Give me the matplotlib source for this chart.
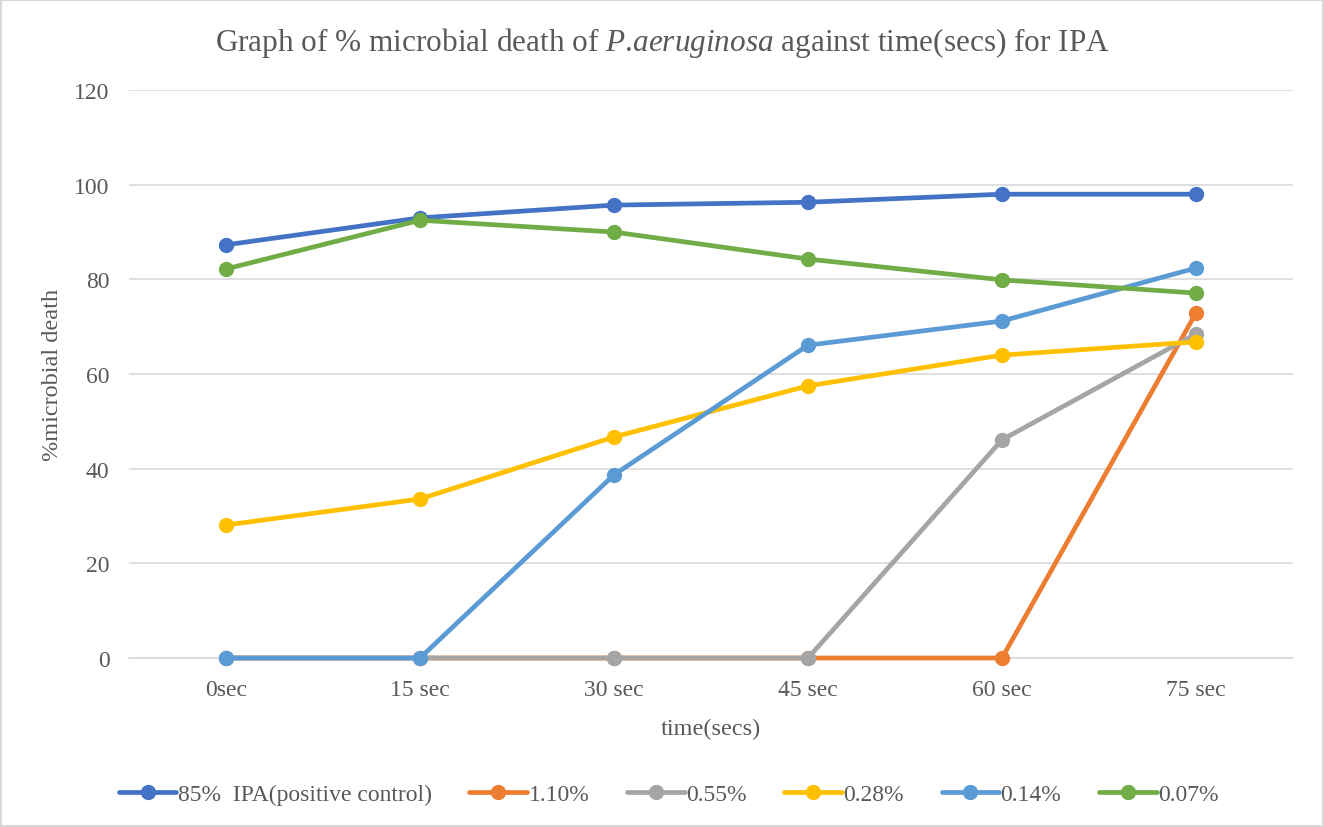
import matplotlib
matplotlib.use("Agg")
import matplotlib.pyplot as plt
from matplotlib.patches import Rectangle

plt.rcParams['font.family'] = ['Liberation Serif', 'DejaVu Serif']
plt.rcParams['mathtext.fontset'] = 'custom'
plt.rcParams['mathtext.rm'] = 'Liberation Serif'
plt.rcParams['mathtext.it'] = 'Liberation Serif:italic'

# data
times = ["0sec", "15 sec", "30 sec", "45 sec", "60 sec", "75 sec"]
ipa_85 = [87.3, 93.0, 95.7, 96.3, 98.0, 98.0]
ipa_110 = [0, 0, 0, 0, 0, 72.9]
ipa_055 = [0, 0, 0, 0, 46.1, 68.5]
ipa_028 = [28.1, 33.6, 46.7, 57.5, 64.0, 66.8]
ipa_014 = [0, 0, 38.7, 66.1, 71.2, 82.4]
ipa_007 = [82.2, 92.5, 90.0, 84.3, 79.9, 77.1]

series = [
    ("85%  IPA(positive control)", ipa_85, "#4472c4"),
    ("1.10%", ipa_110, "#ed7d31"),
    ("0.55%", ipa_055, "#a5a5a5"),
    ("0.28%", ipa_028, "#ffc000"),
    ("0.14%", ipa_014, "#5b9bd5"),
    ("0.07%", ipa_007, "#70ad47"),
]

txt = "#595959"
fig = plt.figure(figsize=(13.24, 8.28), dpi=100)
ax = fig.add_axes([0.0974, 0.2041, 0.8792, 0.6859])

x = list(range(len(times)))
for label, vals, col in series:
    ax.plot(x, vals, color=col, lw=3.4, marker='o', ms=10, label=label,
            solid_capstyle='round', clip_on=False, zorder=3)

ax.set_xlim(-0.5, len(times) - 0.5)
ax.set_ylim(0, 120)
ax.set_yticks(range(0, 121, 20))
ax.set_xticks(x)
ax.set_xticklabels(times)
ax.grid(axis='y', color='#d9d9d9', lw=1.2)
ax.set_axisbelow(True)
for s in ['top', 'right', 'left']:
    ax.spines[s].set_visible(False)
ax.spines['bottom'].set_color('#d9d9d9')
ax.spines['bottom'].set_linewidth(1.2)
ax.spines['bottom'].set_zorder(1)
ax.tick_params(axis='both', length=0, labelsize=17, labelcolor=txt)
ax.tick_params(axis='x', pad=15)
ax.tick_params(axis='y', pad=14)

ax.set_xlabel("time(secs)", fontsize=17.5, color=txt, labelpad=13)
ax.set_ylabel("%microbial death", fontsize=17.5, color=txt, labelpad=8)
fig.text(0.5, 0.948, r"Graph of % microbial death of $P$.$aeruginosa$ against time(secs) for IPA",
         ha='center', va='center', fontsize=22.5, color=txt)

leg = fig.legend(loc='center', bbox_to_anchor=(0.505, 0.039), ncol=6, frameon=False,
                 fontsize=17, handlelength=2.45, columnspacing=1.6, handletextpad=0.05)
for t in leg.get_texts():
    t.set_color(txt)

fig.patches.append(Rectangle((0.001, 0.001), 0.998, 0.998, transform=fig.transFigure,
                             fill=False, edgecolor='#d9d9d9', lw=1.5))

fig.savefig("out.png", dpi=100)
